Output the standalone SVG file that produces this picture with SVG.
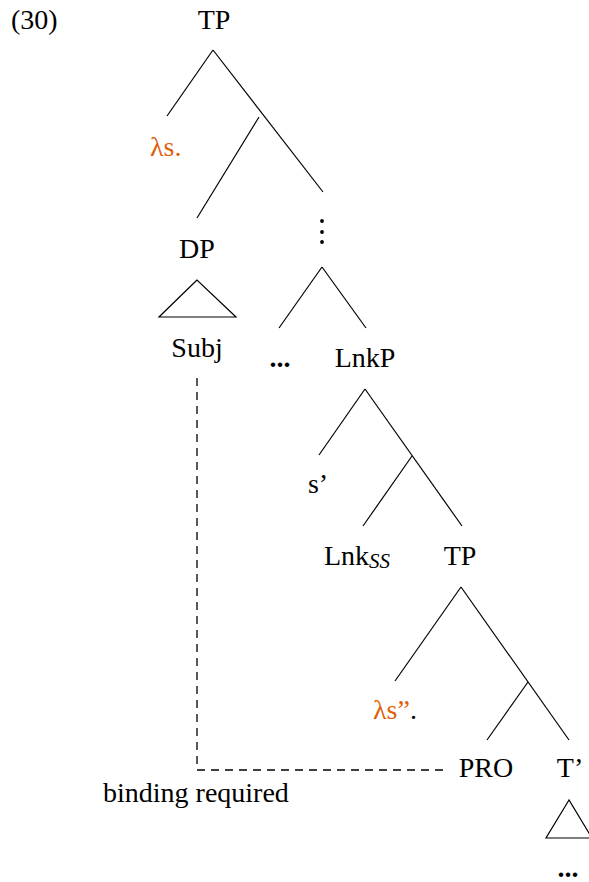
<svg xmlns="http://www.w3.org/2000/svg" width="589" height="882" viewBox="0 0 589 882">
<style>
text{font-family:"Liberation Serif","DejaVu Serif",serif;font-size:28px;fill:#000}
.m{text-anchor:middle}
.o{fill:#e0600a}
.e line,.e polygon{stroke:#000;stroke-width:1.2;fill:none}
.d{stroke:#000;stroke-width:1.3;fill:none;stroke-dasharray:8 6}
</style>
<rect width="589" height="882" fill="#fff"/>
<text id="ex" x="11" y="29">(30)</text>
<g id="tp1"><text class="m" x="214" y="29">TP</text></g>
<g id="lam1"><text class="o" x="150" y="156">λs.</text></g>
<g id="dp"><text class="m" x="197" y="258">DP</text></g>
<g id="subj"><text class="m" x="197" y="357">Subj</text></g>
<g id="vdots"><circle cx="322" cy="221" r="1.9"/><circle cx="322" cy="232" r="1.9"/><circle cx="322" cy="242" r="1.9"/></g>
<g id="dots1"><text class="m" x="280" y="367" font-weight="bold">...</text></g>
<g id="lnkp"><text class="m" x="365" y="367">LnkP</text></g>
<g id="sprime"><text class="m" x="318" y="493">s’</text></g>
<g id="lnkss"><text x="324" y="565">Lnk<tspan font-style="italic" font-size="21" dy="3">SS</tspan></text></g>
<g id="tp2"><text class="m" x="460" y="565">TP</text></g>
<g id="lam2"><text x="373" y="719"><tspan class="o">λs”</tspan>.</text></g>
<g id="pro"><text class="m" x="486" y="777">PRO</text></g>
<g id="tbar"><text class="m" x="570" y="777">T’</text></g>
<g id="dots2"><text class="m" x="568" y="877" font-weight="bold">...</text></g>
<g id="bind"><text x="103" y="802">binding required</text></g>
<g id="edges" class="e">
<line x1="213" y1="50" x2="167" y2="116"/>
<line x1="213" y1="50" x2="323" y2="192"/>
<line x1="259" y1="117" x2="197" y2="218"/>
<polygon points="197,280 159,317 236,317"/>
<line x1="322" y1="267" x2="279" y2="328"/>
<line x1="322" y1="267" x2="366" y2="328"/>
<line x1="365" y1="389" x2="319" y2="455"/>
<line x1="365" y1="389" x2="462" y2="526"/>
<line x1="412" y1="456" x2="363" y2="526"/>
<line x1="461" y1="587" x2="395" y2="681"/>
<line x1="461" y1="587" x2="569" y2="740"/>
<line x1="528" y1="682" x2="487" y2="740"/>
<polygon points="569,800 546,838 592,838"/>
<path class="d" d="M197,378 V770 H449"/>
</g>
</svg>
